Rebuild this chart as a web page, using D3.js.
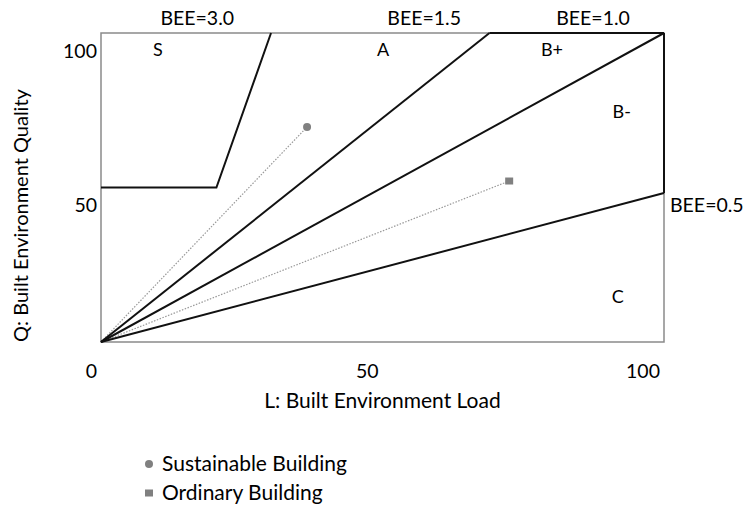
<!DOCTYPE html>
<html>
<head>
<meta charset="utf-8">
<script src="https://cdn.jsdelivr.net/npm/d3@7"></script>
<style>
  body { margin: 0; background: #fff; }
  svg text { font-family: Lato, "Open Sans", sans-serif; fill: #000; }
</style>
</head>
<body>
<svg id="chart" width="744" height="506"></svg>
<script>
// values (L, Q in 0..100)
const ticksL = [0, 50, 100]
const ticksQ = [50, 100]
const sBoundary = [[0, 50], [20.5, 50], [30.2, 100]]
const beeLines = [[0, 0, 69, 100], [0, 0, 100, 100], [0, 0, 100, 48.2]]
const heavyEdges = [[69, 100, 100, 100], [100, 100, 100, 48.2]]
const beeLabels = [
  { text: "BEE=3.0", L: 17.1, Q: 100 },
  { text: "BEE=1.5", L: 57.4, Q: 100 },
  { text: "BEE=1.0", L: 87.4, Q: 100 }
]
const regionLabels = [
  { text: "S", L: 10.1, Q: 94.5 },
  { text: "A", L: 50.1, Q: 94.5 },
  { text: "B+", L: 80.1, Q: 94.5 },
  { text: "B-", L: 92.5, Q: 74.4 },
  { text: "C", L: 91.8, Q: 14.6 }
]
const buildings = [
  { name: "Sustainable Building", L: 36.6, Q: 69.6, shape: "circle" },
  { name: "Ordinary Building", L: 72.5, Q: 52.1, shape: "square" }
]

const marginLeft = 101, marginTop = 33, width = 563, height = 309
const svg = d3.select("#chart")
const g = svg.append("g").attr("transform", `translate(${marginLeft},${marginTop})`)

const x = d3.scaleLinear().domain([0, 100]).range([0, width])
const y = d3.scaleLinear().domain([0, 100]).range([height, 0])
const grey = "#808080"

// frame
g.append("rect")
  .attr("width", width).attr("height", height)
  .attr("fill", "none").attr("stroke", "#8a8a8a").attr("stroke-width", 1.5)

// axes (labels only)
const xAxis = g.append("g").attr("transform", `translate(0,${height})`)
  .call(d3.axisBottom(x).tickValues(ticksL).tickSize(0).tickPadding(22).tickFormat(d3.format("d")))
xAxis.select(".domain").remove()
xAxis.selectAll("text").attr("text-anchor", "end").attr("dx", -4.5)
  .style("font-size", "19.5px").style("font-family", "Lato, sans-serif").attr("fill", "#000")

const yAxis = g.append("g")
  .call(d3.axisLeft(y).tickValues(ticksQ).tickSize(0).tickPadding(4).tickFormat(d3.format("d")))
yAxis.select(".domain").remove()
yAxis.selectAll("text").attr("dy", 24)
  .style("font-size", "19.5px").style("font-family", "Lato, sans-serif").attr("fill", "#000")

// dotted lines to buildings
g.selectAll("line.ray").data(buildings).join("line")
  .attr("class", "ray")
  .attr("x1", x(0)).attr("y1", y(0))
  .attr("x2", d => x(d.L)).attr("y2", d => y(d.Q))
  .attr("stroke", "#999").attr("stroke-width", 1.2).attr("stroke-dasharray", "1.5,1.5")

// BEE lines
const line = d3.line().x(d => x(d[0])).y(d => y(d[1]))
g.append("path").attr("d", line(sBoundary))
  .attr("fill", "none").attr("stroke", "#111").attr("stroke-width", 2)
g.selectAll("line.bee").data(beeLines.concat(heavyEdges)).join("line")
  .attr("class", "bee")
  .attr("x1", d => x(d[0])).attr("y1", d => y(d[1]))
  .attr("x2", d => x(d[2])).attr("y2", d => y(d[3]))
  .attr("stroke", "#111").attr("stroke-width", 2)

// building markers
buildings.forEach(b => {
  if (b.shape === "circle") {
    g.append("circle").attr("cx", x(b.L)).attr("cy", y(b.Q)).attr("r", 4).attr("fill", grey)
  } else {
    g.append("rect").attr("x", x(b.L) - 4).attr("y", y(b.Q) - 3.5)
      .attr("width", 8).attr("height", 7).attr("fill", grey)
  }
})

// labels
g.selectAll("text.bee").data(beeLabels).join("text")
  .attr("class", "bee")
  .attr("x", d => x(d.L)).attr("y", d => y(d.Q) - 8)
  .attr("text-anchor", "middle").style("font-size", "19.5px")
  .text(d => d.text)
g.append("text")
  .attr("x", x(100) + 6).attr("y", y(48.2) + 19)
  .style("font-size", "19.5px").text("BEE=0.5")

g.selectAll("text.region").data(regionLabels).join("text")
  .attr("class", "region")
  .attr("x", d => x(d.L)).attr("y", d => y(d.Q)).attr("dy", "0.35em")
  .attr("text-anchor", "middle").style("font-size", "18px")
  .text(d => d.text)

// axis titles
svg.append("text")
  .attr("x", marginLeft + width / 2).attr("y", 408)
  .attr("text-anchor", "middle").style("font-size", "21px")
  .text("L: Built Environment Load")
svg.append("text")
  .attr("transform", `translate(28,${marginTop + height / 2 + 28}) rotate(-90)`)
  .attr("text-anchor", "middle").style("font-size", "20px")
  .text("Q: Built Environment Quality")

// legend
const legend = svg.append("g").attr("transform", "translate(149,464)")
legend.selectAll("g").data(buildings).join("g")
  .attr("transform", (d, i) => `translate(0,${i * 29})`)
  .each(function (d) {
    const item = d3.select(this)
    if (d.shape === "circle") item.append("circle").attr("r", 4).attr("fill", grey)
    else item.append("rect").attr("x", -4).attr("y", -3.5).attr("width", 8).attr("height", 7).attr("fill", grey)
    item.append("text").attr("x", 13).attr("dy", "0.35em").style("font-size", "21px").text(d.name)
  })
</script>
</body>
</html>
